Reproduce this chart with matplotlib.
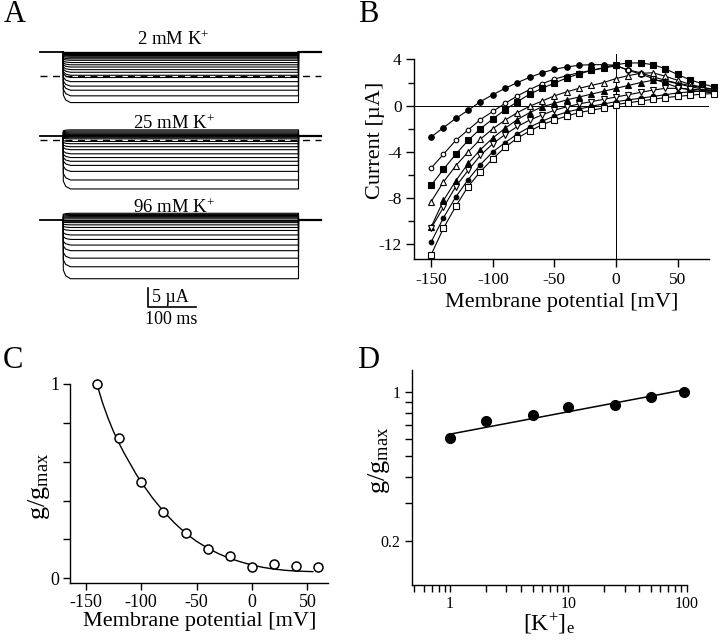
import numpy as np
import matplotlib
matplotlib.use("Agg")
import matplotlib.pyplot as plt
from matplotlib.ticker import FixedLocator, NullFormatter

plt.rcParams['font.family'] = ['Liberation Serif', 'DejaVu Serif']
plt.rcParams['mathtext.fontset'] = 'custom'
plt.rcParams['mathtext.rm'] = 'Liberation Serif'
plt.rcParams['mathtext.it'] = 'Liberation Serif:italic'
plt.rcParams['axes.linewidth'] = 1.0

W, H = 720, 641

# ---------------- data ----------------
# A: step current levels (uA, relative to holding current) for each [K+]
conc_labels = ["2 mM K$^{+}$", "25 mM K$^{+}$", "96 mM K$^{+}$"]
levels_2mM = [0.0, -0.2, -0.35, -0.5, -0.65, -0.8, -1.0, -1.2, -1.5, -1.9, -2.3,
              -2.9, -3.5, -4.1, -4.8, -5.5, -6.3, -6.9, -8.0, -9.2, -10.3, -11.8, -13.6]
levels_25mM = [1.6, 1.3, 1.0, 0.7, 0.4, 0.1, -0.2, -0.5, -0.8, -1.5, -2.1, -2.9,
               -3.7, -4.8, -5.8, -6.8, -7.9, -9.5, -11.8, -14.2]
levels_96mM = [1.8, 1.5, 1.2, 0.9, 0.6, 0.3, 0.0, -0.35, -0.7, -1.3, -2.0, -2.8,
               -4.0, -5.2, -6.7, -8.2, -10.2, -12.5, -15.7]
zero_current = [-6.6, -1.2, None]   # dashed zero-current level per trace family
pulse_ms = 490

# B: I-V relations
V_iv = [-150, -140, -130, -120, -110, -100, -90, -80, -70, -60, -50, -40,
        -30, -20, -10, 0, 10, 20, 30, 40, 50, 60, 70, 80]
iv_1 = [-2.7, -1.9, -1.1, -0.4, 0.35, 0.95, 1.5, 2.0, 2.45, 2.85, 3.15, 3.35,
        3.5, 3.55, 3.55, 3.5, 3.05, 2.75, 2.35, 1.95, 1.6, 1.35, 1.2, 1.1]
iv_2 = [-5.4, -4.2, -3.0, -2.1, -1.2, -0.5, 0.2, 0.85, 1.4, 1.9, 2.3, 2.6,
        2.85, 3.05, 3.25, 3.45, 3.1, 2.85, 2.5, 2.2, 1.95, 1.75, 1.55, 1.4]
iv_3 = [-6.9, -5.5, -4.2, -3.0, -2.0, -1.15, -0.35, 0.35, 1.0, 1.5, 1.95, 2.4,
        2.75, 3.05, 3.3, 3.55, 3.7, 3.7, 3.55, 3.2, 2.7, 2.25, 1.9, 1.6]
iv_4 = [-8.3, -6.6, -5.2, -4.0, -2.9, -2.0, -1.25, -0.6, -0.05, 0.4, 0.85, 1.2,
        1.5, 1.75, 2.0, 2.35, 2.6, 2.8, 2.85, 2.55, 2.2, 1.85, 1.6, 1.4]
iv_5 = [-10.5, -8.2, -6.5, -5.0, -3.8, -2.8, -1.95, -1.2, -0.6, -0.1, 0.2, 0.5,
        0.75, 1.0, 1.25, 1.5, 1.75, 2.0, 2.2, 2.15, 1.9, 1.65, 1.45, 1.3]
iv_6 = [-10.6, -8.8, -7.0, -5.6, -4.3, -3.3, -2.5, -1.8, -1.25, -0.8, -0.4, -0.1,
        0.15, 0.35, 0.55, 0.75, 0.95, 1.15, 1.35, 1.5, 1.5, 1.45, 1.35, 1.25]
iv_7 = [-11.8, -9.7, -7.9, -6.4, -5.1, -4.0, -3.2, -2.45, -1.85, -1.35, -0.9, -0.55,
        -0.3, -0.05, 0.15, 0.35, 0.5, 0.65, 0.8, 0.95, 1.1, 1.2, 1.25, 1.25]
iv_8 = [-12.9, -10.6, -8.7, -7.0, -5.7, -4.6, -3.6, -2.8, -2.2, -1.65, -1.25, -0.9,
        -0.6, -0.4, -0.2, 0.1, 0.25, 0.4, 0.55, 0.7, 0.8, 0.9, 1.0, 1.05]

# C: relative conductance vs potential
V_g = [-140, -120, -100, -80, -60, -40, -20, 0, 20, 40, 60]
g_rel = [1.0, 0.724, 0.496, 0.343, 0.235, 0.151, 0.115, 0.06, 0.075, 0.062, 0.057]
V_fit = [-140, -135, -130, -125, -120, -115, -110, -105, -100, -90, -80, -70,
         -60, -50, -40, -30, -20, -10, 0, 10, 20, 30, 40, 50, 55]
g_fit = [1.0, 0.905, 0.825, 0.755, 0.695, 0.64, 0.59, 0.54, 0.495, 0.415, 0.345, 0.285,
         0.232, 0.19, 0.155, 0.126, 0.102, 0.084, 0.068, 0.056, 0.047, 0.041, 0.037, 0.035, 0.034]

# D: relative conductance vs [K+]e
K_e = [1, 2, 5, 10, 25, 50, 96]
g_K = [0.605, 0.732, 0.776, 0.853, 0.865, 0.944, 1.0]
K_line = [1, 96]
g_line = [0.634, 1.025]


def px_axes(left, top, right, bottom):
    return fig.add_axes([left / W, 1 - bottom / H, (right - left) / W, (bottom - top) / H])


fig = plt.figure(figsize=(7.2, 6.41), dpi=100)

# ---------------- A ----------------
axA = px_axes(30, 20, 340, 325)
ms_px, ua_px = 0.48, 3.74
axA.set_xlim((30 - 63.3) / ms_px, (340 - 63.3) / ms_px)
axA.set_ylim(-(325 - 51.7) / ua_px, (51.7 - 20) / ua_px)
axA.axis('off')
offsets = [0.0, -22.5, -45.0]
for levels, off, zc, lab in zip([levels_2mM, levels_25mM, levels_96mM],
                                offsets, zero_current, conc_labels):
    axA.plot([-48, 0], [off, off], color='k', lw=1.3)
    axA.plot([pulse_ms, pulse_ms + 47], [off, off], color='k', lw=1.6)
    for lv in levels:
        t = [0, 0, 5, 15, pulse_ms, pulse_ms]
        y = [off, off + 0.85 * lv, off + 0.95 * lv, off + lv, off + lv, off]
        axA.plot(t, y, color='k', lw=0.8)
    if zc is not None:
        axA.plot([-48, pulse_ms + 47], [off + zc, off + zc], color='k', lw=1.0,
                 ls=(0, (5, 4)))
    axA.text(230, off + 3.3, lab, ha='center', va='center', fontsize=13.5)
# scale bar
axA.plot([175.8, 175.8, 275.8], [-63.2, -68.2, -68.2], color='k', lw=1.2)
axA.text(184, -65.6, "5 µA", ha='left', va='center', fontsize=13)
axA.text(225.8, -71.6, "100 ms", ha='center', va='center', fontsize=13)

# ---------------- B ----------------
axB = px_axes(414.3, 53.7, 709.3, 259.3)
axB.set_xlim(-163.7, 75.8)
axB.set_ylim(-13.3, 4.5)
for s in ['top', 'right']:
    axB.spines[s].set_visible(False)
axB.spines['left'].set_bounds(-13.3, 4)
axB.axhline(0, color='k', lw=0.7)
axB.axvline(0, color='k', lw=0.7)
styles = [('o', 'k', 4.0), ('o', 'w', 3.3), ('s', 'k', 4.5), ('^', 'w', 4.2),
          ('^', 'k', 4.2), ('v', 'w', 4.2), ('o', 'k', 3.3), ('s', 'w', 4.5)]
for series, (m, fc, ms) in zip([iv_1, iv_2, iv_3, iv_4, iv_5, iv_6, iv_7, iv_8], styles):
    axB.plot(V_iv, series, color='k', lw=0.8, marker=m, mfc=fc, mec='k',
             mew=0.8, ms=ms, clip_on=False)
axB.set_xticks([-150, -100, -50, 0, 50])
axB.set_xticklabels(['-150', '-100', '-50', '0', '50'])
axB.set_yticks([-12, -8, -4, 0, 4])
axB.set_yticklabels(['-12', '-8', '-4', '0', '4'])
axB.set_yticks([-10, -6, -2, 2], minor=True)
axB.tick_params(which='major', length=6, width=1.0, labelsize=12.5, pad=3)
axB.tick_params(which='minor', length=4, width=1.0)
axB.set_xlabel("Membrane potential [mV]", fontsize=16)
axB.set_ylabel("Current [µA]", fontsize=16)
axB.xaxis.set_label_coords(0.5, -0.165)
axB.yaxis.set_label_coords(-0.1, 0.58)

# ---------------- C ----------------
axC = px_axes(70.3, 384, 328.3, 583.3)
axC.set_xlim(-164, 68.9)
axC.set_ylim(-0.026, 1.0)
for s in ['top', 'right']:
    axC.spines[s].set_visible(False)
axC.plot(V_fit, g_fit, color='k', lw=1.0)
axC.plot(V_g, g_rel, ls='none', marker='o', mfc='w', mec='k', mew=1.1, ms=6.5,
         clip_on=False)
axC.set_xticks([-150, -100, -50, 0, 50])
axC.set_xticklabels(['-150', '-100', '-50', '0', '50'])
axC.set_yticks([0, 1])
axC.set_yticklabels(['0', '1'])
axC.set_yticks([0.2, 0.4, 0.6, 0.8], minor=True)
axC.tick_params(which='both', length=5, width=1.0, labelsize=13, pad=3)
axC.set_xlabel("Membrane potential [mV]", fontsize=16)
axC.set_ylabel("g/g$_{\\mathrm{max}}$", fontsize=19)
axC.xaxis.set_label_coords(0.5, -0.145)
axC.yaxis.set_label_coords(-0.07, 0.485)

# ---------------- D ----------------
axD = px_axes(411.7, 370, 686.7, 585)
axD.set_xscale('log')
axD.set_yscale('log')
axD.set_xlim(0.474, 100.3)
axD.set_ylim(0.1237, 1.27)
for s in ['top', 'right']:
    axD.spines[s].set_visible(False)
axD.plot(K_line, g_line, color='k', lw=1.1)
axD.plot(K_e, g_K, ls='none', marker='o', color='k', ms=7, clip_on=False)
axD.xaxis.set_major_locator(FixedLocator([1, 10, 100]))
axD.xaxis.set_minor_locator(FixedLocator([0.5, 0.6, 0.7, 0.8, 0.9, 2, 3, 4, 5, 6, 7, 8, 9,
                                          20, 30, 40, 50, 60, 70, 80, 90]))
axD.xaxis.set_minor_formatter(NullFormatter())
axD.set_xticklabels(['1', '10', '100'])
axD.yaxis.set_major_locator(FixedLocator([0.2, 1]))
axD.yaxis.set_minor_locator(FixedLocator([0.3, 0.4, 0.5, 0.6, 0.7, 0.8, 0.9]))
axD.yaxis.set_minor_formatter(NullFormatter())
axD.set_yticklabels(['0.2', '1'])
axD.tick_params(which='both', length=5, width=1.0, labelsize=11.5, pad=3)
axD.set_xlabel("[K$^{+}$]$_{\\mathrm{e}}$", fontsize=17)
axD.set_ylabel("g/g$_{\\mathrm{max}}$", fontsize=19)
axD.xaxis.set_label_coords(0.5, -0.125)
axD.yaxis.set_label_coords(-0.07, 0.58)

# panel letters
for lab, x, y in [('A', 15, 15), ('B', 368, 15), ('C', 13, 361), ('D', 368, 361)]:
    fig.text(x / W, 1 - y / H, lab, fontsize=22, ha='center', va='center')

plt.savefig('out.png', dpi=100)
